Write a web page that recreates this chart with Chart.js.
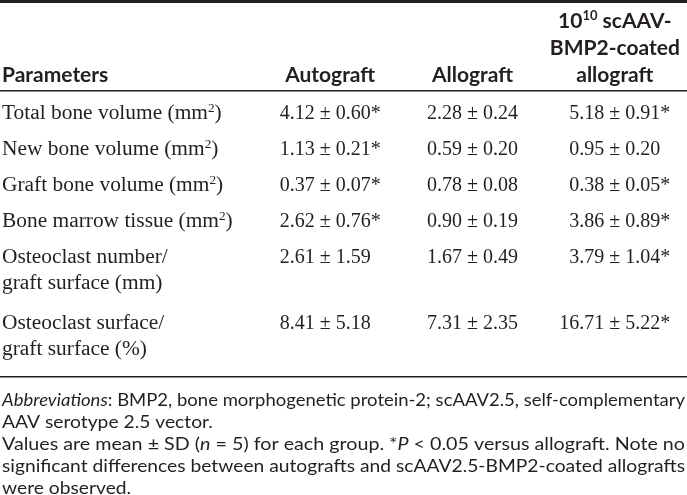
<!DOCTYPE html>
<html lang="en">
<head>
<meta charset="UTF-8">
<title>Histomorphometry table</title>
<script src="https://cdn.jsdelivr.net/npm/chart.js@4.4.0/dist/chart.umd.min.js"></script>
<style>
  body { margin: 0; background: #fff; }
  canvas { display: block; }
</style>
</head>
<body>
<canvas id="table" width="687" height="495"></canvas>
<script>
// ---- data read from the table ----
// ^{..} = superscript, _{..} = italic
const columns = ['Autograft', 'Allograft', '10^{10} scAAV-BMP2-coated allograft'];
const columnHeaders = [
  ['Autograft'],
  ['Allograft'],
  ['10^{10} scAAV-', 'BMP2-coated', 'allograft']
];
const parameters = [
  ['Total bone volume (mm^{2})'],
  ['New bone volume (mm^{2})'],
  ['Graft bone volume (mm^{2})'],
  ['Bone marrow tissue (mm^{2})'],
  ['Osteoclast number/', 'graft surface (mm)'],
  ['Osteoclast surface/', 'graft surface (%)']
];

const autograftMean = [4.12, 1.13, 0.37, 2.62, 2.61, 8.41];
const autograftSD   = [0.60, 0.21, 0.07, 0.76, 1.59, 5.18];
const autograftSig  = [true, true, true, true, false, false];

const allograftMean = [2.28, 0.59, 0.78, 0.90, 1.67, 7.31];
const allograftSD   = [0.24, 0.20, 0.08, 0.19, 0.49, 2.35];
const allograftSig  = [false, false, false, false, false, false];

const scaavMean = [5.18, 0.95, 0.38, 3.86, 3.79, 16.71];
const scaavSD   = [0.91, 0.20, 0.05, 0.89, 1.04, 5.22];
const scaavSig  = [true, false, true, true, true, true];

const footnotes = [
  '_{Abbreviations}: BMP2, bone morphogenetic protein-2; scAAV2.5, self-complementary',
  'AAV serotype 2.5 vector.',
  'Values are mean \u00b1 SD (_{n} = 5) for each group. *_{P} < 0.05 versus allograft. Note no',
  'significant differences between autografts and scAAV2.5-BMP2-coated allografts',
  'were observed.'
];

// ---- layout / style ----
const INK = '#231f20';
const serif = { family: '"Liberation Serif", "Times New Roman", serif', size: 20 };
const headFont = { family: 'Lato, "Open Sans", sans-serif', size: 21, weight: 'bold' };
const noteFont = { family: 'Lato, "Open Sans", sans-serif', size: 18 };
const labelStretch = 1.07; // row labels are set a little wider than the numbers
const rowLine = 26;     // line spacing inside a row
const rowStep = 36;     // step between rows
const multiPad = 4;     // extra space after a two line row

// row positions in the body (y scale units)
const rowPos = [];
let p = 21;
parameters.forEach(function (lines, i) {
  if (i > 0) {
    const prev = parameters[i - 1].length;
    p += rowLine * (prev - 1) + rowStep + (prev > 1 ? multiPad : 0);
  }
  rowPos.push(p);
});
const bodyMax = rowPos[rowPos.length - 1] + rowLine * (parameters[parameters.length - 1].length - 1) + 28.5;

const means = [autograftMean, allograftMean, scaavMean];
const sds = [autograftSD, allograftSD, scaavSD];
const sigs = [autograftSig, allograftSig, scaavSig];

const cells = [];
for (let c = 0; c < columns.length; c++) {
  for (let r = 0; r < parameters.length; r++) {
    cells.push({
      x: columns[c], y: rowPos[r], col: c,
      left: means[c][r].toFixed(2) + ' ',
      right: '\u00b1 ' + sds[c][r].toFixed(2) + (sigs[c][r] ? '*' : '')
    });
  }
}

// ---- rich text helpers ----
function runs(s) {
  const out = [];
  const re = /\^\{([^}]*)\}|_\{([^}]*)\}/g;
  let last = 0, m;
  while ((m = re.exec(s))) {
    if (m.index > last) out.push({ t: s.slice(last, m.index) });
    if (m[1] !== undefined) out.push({ t: m[1], sup: true });
    else out.push({ t: m[2], it: true });
    last = re.lastIndex;
  }
  if (last < s.length) out.push({ t: s.slice(last) });
  return out;
}
function fontOf(base, r) {
  const size = r.sup ? base.size * 0.62 : base.size;
  return (r.it ? 'italic ' : '') + (base.weight || 'normal') + ' ' + size + 'px ' + base.family;
}
function textWidth(ctx, base, s) {
  let w = 0;
  runs(s).forEach(function (r) { ctx.font = fontOf(base, r); w += ctx.measureText(r.t).width; });
  return w;
}
function drawText(ctx, base, s, x, y, opt) {
  opt = opt || {};
  const rs = runs(s);
  const w = textWidth(ctx, base, s);
  const sx = opt.fit ? opt.fit / w : (opt.sx || 1);
  let x0 = x;
  if (opt.align === 'center') x0 = x - w * sx / 2;
  if (opt.align === 'right') x0 = x - w * sx;
  ctx.save();
  ctx.translate(x0, y);
  ctx.scale(sx, 1);
  let cx = 0;
  rs.forEach(function (r) {
    ctx.font = fontOf(base, r);
    ctx.fillText(r.t, cx, r.sup ? -base.size * 0.36 : 0);
    cx += ctx.measureText(r.t).width;
  });
  ctx.restore();
}

const tablePlugin = {
  id: 'tableText',
  afterDatasetsDraw: function (chart) {
    const ctx = chart.ctx;
    const area = chart.chartArea;
    const xs = chart.scales.x, ys = chart.scales.y;
    const W = chart.width;
    ctx.save();
    ctx.fillStyle = INK;
    ctx.textBaseline = 'alphabetic';

    // rules
    ctx.fillRect(0, 0, W, 3);
    ctx.fillRect(0, area.top - 1, W, 1.5);
    ctx.fillRect(0, area.bottom - 0.5, W, 1.5);

    // header
    const headBase = area.top - 9;
    drawText(ctx, headFont, 'Parameters', 2, headBase);
    columnHeaders.forEach(function (lines, c) {
      const cx = xs.getPixelForValue(c);
      lines.forEach(function (line, k) {
        drawText(ctx, headFont, line, cx, headBase - 27 * (lines.length - 1 - k), { align: 'center' });
      });
    });

    // row labels
    parameters.forEach(function (lines, r) {
      const y = ys.getPixelForValue(rowPos[r]) + 6.75;
      lines.forEach(function (line, k) {
        drawText(ctx, serif, line, 2, y + rowLine * k, { sx: labelStretch });
      });
    });

    // cells, aligned on the ± sign, block centered on the column
    const meta = chart.getDatasetMeta(0);
    const ds = chart.data.datasets[0].data;
    const maxL = [0, 0, 0], maxR = [0, 0, 0];
    ds.forEach(function (d) {
      maxL[d.col] = Math.max(maxL[d.col], textWidth(ctx, serif, d.left));
      maxR[d.col] = Math.max(maxR[d.col], textWidth(ctx, serif, d.right));
    });
    meta.data.forEach(function (pt, i) {
      const d = ds[i];
      const anchor = pt.x - (maxL[d.col] + maxR[d.col]) / 2 + maxL[d.col];
      drawText(ctx, serif, d.left, anchor, pt.y + 6.75, { align: 'right' });
      drawText(ctx, serif, d.right, anchor, pt.y + 6.75);
    });

    // footnotes
    const fitW = W - 4;
    const natScale = fitW / textWidth(ctx, noteFont, footnotes[3]);
    footnotes.forEach(function (line, k) {
      const y = area.bottom + 29 + 22 * k;
      const justify = !/\.$/.test(line);
      drawText(ctx, noteFont, line, 2, y, justify ? { fit: fitW } : { sx: natScale });
    });
    ctx.restore();
  }
};

new Chart(document.getElementById('table'), {
  type: 'scatter',
  data: { datasets: [{ data: cells, pointRadius: 0, pointHoverRadius: 0 }] },
  options: {
    responsive: false,
    animation: false,
    devicePixelRatio: 1,
    events: [],
    layout: { padding: { top: 91, bottom: 495 - 91 - bodyMax, left: 259, right: 1 } },
    scales: {
      x: { type: 'category', labels: columns, offset: true, display: false },
      y: { type: 'linear', min: 0, max: bodyMax, reverse: true, display: false }
    },
    plugins: { legend: { display: false }, tooltip: { enabled: false } }
  },
  plugins: [tablePlugin]
});
</script>
</body>
</html>
